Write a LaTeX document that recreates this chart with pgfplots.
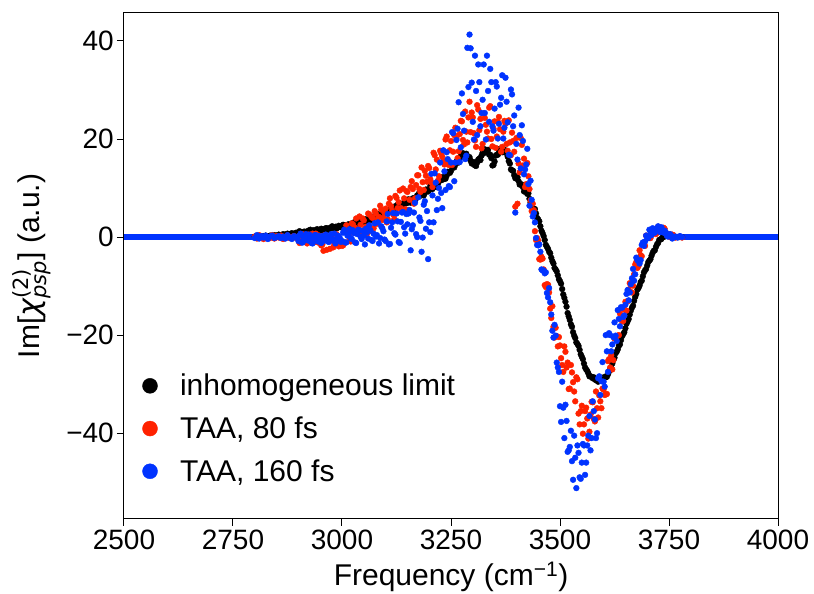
\documentclass[border=0pt]{standalone}
\usepackage{amsmath}
\usepackage{fontspec}
\setmainfont{Liberation Sans}
\newfontfamily\djv{DejaVu Sans}
\usepackage{pgfplots}
\usepackage{pgfplotstable}
\pgfplotsset{compat=1.18}

\definecolor{taared}{RGB}{255,34,0}
\definecolor{taablue}{RGB}{0,51,255}

% Im[chi(2)] spectra: inhomogeneous limit (k), TAA 80 fs (r), TAA 160 fs (b)
\pgfplotstableread{
x k r b
2800 0.1 0.1 -0.2
2805 0.1 -0.3 0.4
2810 0.2 0.4 -0.3
2815 0.1 -0.1 0.2
2820 0.2 -0.4 -0.1
2825 0.3 0.2 0.3
2830 0.2 0.0 -0.4
2835 0.3 -0.2 0.1
2840 0.3 0.4 0.3
2845 0.4 -0.3 -0.2
2850 0.3 0.2 0.0
2855 0.5 -0.1 0.2
2860 0.4 0.3 -0.2
2865 0.6 -0.4 0.1
2870 0.5 0.1 -0.3
2875 0.7 0.3 0.4
2880 0.6 -0.2 -0.1
2885 0.8 0.0 -0.4
2890 0.7 0.2 0.2
2895 0.9 -0.2 0.0
2900 0.8 0.0 -0.8
2905 1.0 -1.0 0.7
2910 0.9 0.6 -1.1
2915 1.1 -0.5 0.1
2920 1.0 -1.3 -0.6
2925 1.3 0.3 0.5
2930 1.1 -0.2 -1.2
2935 1.4 -0.8 -0.1
2940 1.2 0.7 0.4
2945 1.5 -1.1 -0.9
2950 1.3 -0.3 -0.4
2955 1.6 -1.5 0.2
2960 1.5 0.4 -0.7
2965 1.8 -2.6 0.0
2970 1.6 -0.6 -1.0
2975 1.9 0.3 0.6
2980 1.8 -2.1 -0.5
2985 2.1 -1.2 -1.3
2990 1.9 -0.1 0.3
2995 2.2 -1.7 -0.2
3000 2.0 -1.8 -0.8
3005 2.4 -1.1 1.5
3010 2.2 2.4 -1.1
3015 2.6 0.4 0.7
3020 2.4 -0.9 -0.2
3025 2.8 2.6 1.4
3030 2.6 1.9 -1.1
3035 3.0 0.9 0.6
3040 2.9 4.2 1.4
3045 3.3 0.9 -0.4
3050 3.1 3.4 0.3
3055 3.6 2.1 1.7
3060 3.4 4.8 -0.3
3065 3.9 1.3 1.4
3070 3.7 3.9 -0.8
3075 4.3 5.3 2.8
3080 4.1 2.7 0.4
3085 4.7 4.1 -1.3
3090 4.5 5.6 2.2
3095 5.1 3.9 1.2
3100 4.9 5.8 -0.8
3105 5.5 3.6 4.7
3110 5.4 7.9 -1.4
3115 6.0 5.4 3.0
3120 5.9 3.7 0.8
3125 6.3 8.0 4.8
3130 6.2 7.1 -1.0
3135 6.6 5.9 3.1
3140 6.7 9.9 5.1
3145 7.0 5.7 0.7
3150 7.0 9.2 2.6
3155 7.3 7.6 5.5
3160 7.5 11.4 1.6
3165 7.9 6.8 5.0
3170 8.0 10.6 0.6
3175 8.4 12.6 8.1
3180 8.5 9.2 3.3
3185 8.9 11.2 -0.1
3190 9.0 13.5 7.3
3195 9.5 11.3 5.3
3200 9.6 14.1 3.0
3205 10.1 11.1 12.9
3210 10.2 17.2 3.0
3215 10.7 13.8 11.1
3220 10.9 11.5 7.8
3225 11.5 17.6 15.2
3230 11.7 16.4 5.9
3235 12.3 14.8 13.4
3240 12.5 20.5 17.3
3245 13.2 14.7 10.4
3250 13.5 19.6 15.2
3255 14.4 17.4 21.2
3260 14.8 22.3 15.2
3265 15.6 16.1 22.1
3270 16.0 21.0 15.3
3275 16.6 23.6 29.3
3280 16.4 18.9 21.7
3285 17.0 21.5 16.6
3290 16.2 24.4 30.6
3295 15.6 21.4 38.5
3300 15.0 24.4 23.5
3305 14.6 19.7 37.0
3310 15.2 26.9 20.8
3315 16.0 21.8 31.6
3320 16.6 18.1 25.3
3325 17.1 25.2 35.2
3330 17.4 22.9 19.9
3335 17.8 20.1 29.8
3340 16.8 26.7 34.3
3345 14.6 18.5 22.6
3350 15.4 23.6 26.2
3355 16.8 20.5 30.7
3360 17.6 24.5 23.1
3365 18.0 17.4 28.4
3370 17.8 21.5 20.1
3375 17.2 23.1 32.5
3380 16.4 17.6 23.4
3385 15.0 19.3 16.7
3390 13.6 21.3 29.1
3395 12.6 17.4 24.8
3400 12.0 20.2 19.0
3405 11.4 15.0 26.4
3410 10.8 20.2 14.0
3415 10.2 14.6 19.6
3420 9.6 10.2 13.8
3425 8.8 15.1 18.0
3430 7.8 9.8 6.4
3435 6.8 5.3 7.6
3440 5.8 5.5 4.9
3445 4.8 -0.6 -0.2
3450 3.6 -0.7 -1.7
3455 2.2 -4.6 -3.0
3460 0.8 -4.4 -6.8
3465 -0.6 -9.8 -7.4
3470 -2.0 -9.6 -11.4
3475 -3.0 -11.3 -10.4
3480 -4.2 -16.5 -15.8
3485 -5.4 -18.3 -20.5
3490 -6.6 -18.5 -20.1
3495 -7.8 -22.3 -26.6
3500 -9.0 -22.1 -34.5
3505 -10.6 -26.1 -29.5
3510 -12.4 -22.3 -41.0
3515 -14.2 -26.6 -37.5
3520 -16.2 -31.0 -43.5
3525 -17.8 -26.1 -39.5
3530 -19.4 -29.6 -49.5
3535 -20.6 -33.5 -45.0
3540 -21.8 -29.0 -42.5
3545 -23.0 -38.2 -49.0
3550 -24.4 -34.4 -46.0
3555 -25.8 -38.2 -42.5
3560 -27.0 -34.8 -46.0
3565 -27.8 -41.1 -40.5
3570 -28.4 -36.2 -43.5
3575 -28.8 -33.7 -33.5
3580 -29.0 -37.6 -37.2
3585 -29.2 -34.9 -40.0
3590 -29.2 -32.3 -28.4
3595 -29.0 -34.9 -29.4
3600 -28.8 -31.1 -29.5
3605 -28.6 -32.1 -20.0
3610 -28.0 -25.3 -27.5
3615 -27.0 -26.6 -20.0
3620 -25.8 -27.0 -21.9
3625 -24.6 -20.7 -17.4
3630 -23.4 -20.3 -21.2
3635 -22.2 -20.0 -16.7
3640 -21.0 -14.5 -14.3
3645 -19.8 -17.1 -16.3
3650 -18.6 -13.2 -13.8
3655 -17.2 -13.1 -10.8
3660 -15.8 -9.4 -11.3
3665 -14.4 -11.3 -8.4
3670 -13.0 -7.6 -8.9
3675 -11.6 -5.1 -4.2
3680 -10.4 -5.9 -4.8
3685 -9.2 -3.7 -4.7
3690 -8.0 -1.6 -1.1
3695 -6.8 -1.8 -0.9
3700 -5.8 0.2 -0.1
3705 -4.8 -0.2 1.5
3710 -3.8 1.5 0.4
3715 -2.8 0.9 1.6
3720 -2.0 0.6 1.3
3725 -1.2 2.1 2.2
3730 -0.5 1.9 1.0
3735 0.0 1.4 1.3
3740 0.3 1.7 1.3
3745 0.4 0.4 0.3
3750 0.3 0.6 0.4
3755 0.2 0.2 0.3
3760 0.1 0.4 0.0
3765 0.0 -0.1 0.1
3770 0.0 0.0 -0.1
3775 0.0 0.1 0.2
3780 0.0 -0.1 0.0
}\maintab

% intermediate samples, offset by half a grid step
\pgfplotstableread{
x k r b
2902.5 1.2 -1.2 0.3
2907.5 0.8 0.2 -1.1
2912.5 1.1 -0.1 -0.2
2917.5 0.8 -0.9 0.6
2922.5 1.3 0.5 -0.7
2927.5 1.5 -0.6 0.0
2932.5 1.2 0.7 -1.3
2937.5 1.0 -1.0 0.4
2942.5 1.6 -0.2 -0.5
2947.5 1.3 0.3 0.2
2952.5 1.7 -1.7 -1.2
2957.5 1.4 -2.8 -0.1
2962.5 1.8 0.3 0.5
2967.5 1.4 -0.5 -0.9
2972.5 1.9 -2.4 -0.3
2977.5 2.2 -0.3 -0.6
2982.5 1.9 -1.4 0.7
2987.5 1.8 0.6 -0.8
2992.5 2.3 -1.9 0.1
2997.5 2.0 -1.0 -1.0
3002.5 2.5 -1.7 0.9
3007.5 2.1 1.4 -1.1
3012.5 2.5 1.1 0.3
3017.5 2.2 -0.2 1.6
3022.5 2.8 2.8 -0.4
3027.5 3.0 0.9 0.8
3032.5 2.7 3.8 -1.2
3037.5 2.7 0.7 1.5
3042.5 3.3 2.5 0.1
3047.5 3.1 3.8 1.3
3052.5 3.6 1.7 -1.5
3057.5 3.3 0.7 1.0
3062.5 3.8 4.6 2.4
3067.5 3.5 4.1 -0.6
3072.5 4.2 1.8 0.7
3077.5 4.5 4.8 0.1
3082.5 4.3 3.7 3.0
3087.5 4.4 6.4 -0.2
3092.5 5.0 3.5 1.8
3097.5 4.9 4.9 -0.5
3102.5 5.5 3.0 3.2
3107.5 5.3 6.8 -1.5
3112.5 5.8 6.3 1.9
3117.5 5.7 4.6 4.9
3122.5 6.3 8.4 0.5
3127.5 6.6 5.9 3.2
3132.5 6.3 9.5 -1.2
3137.5 6.4 5.5 5.0
3142.5 7.1 7.9 2.0
3147.5 6.9 9.4 4.7
3152.5 7.7 5.5 4.8
3157.5 7.0 10.2 -2.7
3162.5 7.9 9.8 2.4
3167.5 7.4 7.9 7.0
3172.5 8.5 12.6 0.0
3177.5 9.1 9.8 4.0
3182.5 8.5 14.2 -3.0
3187.5 8.5 9.6 6.6
3192.5 9.7 12.5 1.7
3197.5 9.3 14.5 -4.5
3202.5 10.4 11.8 1.0
3207.5 9.8 10.2 8.5
3212.5 10.7 16.7 13.0
3217.5 10.2 15.8 5.5
3222.5 11.5 12.4 10.0
3227.5 12.2 17.1 9.0
3232.5 11.8 15.5 17.7
3237.5 11.9 19.9 9.6
3242.5 13.3 15.4 15.9
3247.5 13.1 17.7 10.2
3252.5 14.5 14.7 21.4
3257.5 14.2 20.8 11.4
3262.5 15.4 20.2 19.8
3267.5 15.2 17.5 27.5
3272.5 16.6 23.7 18.3
3277.5 17.1 19.8 25.1
3282.5 16.5 25.6 15.9
3287.5 16.1 19.3 38.6
3292.5 16.3 27.6 41.3
3297.5 15.0 25.4 31.5
3302.5 15.3 21.2 19.9
3307.5 14.5 18.4 29.8
3312.5 15.8 26.0 35.2
3317.5 15.7 24.1 22.6
3322.5 17.2 19.0 28.0
3327.5 17.9 24.3 25.3
3332.5 17.4 21.5 37.0
3337.5 16.8 26.4 23.5
3342.5 16.1 20.0 31.6
3347.5 14.7 22.1 21.7
3352.5 16.6 18.2 31.6
3357.5 16.8 23.5 20.1
3362.5 18.0 22.0 27.0
3367.5 17.3 18.4 33.0
3372.5 17.8 23.7 22.3
3377.5 17.4 19.0 27.6
3382.5 15.5 23.8 16.8
3387.5 13.8 16.7 30.1
3392.5 13.5 19.6 22.6
3397.5 12.0 6.2 5.0
3402.5 12.2 6.8 15.8
3407.5 10.7 13.2 20.8
3412.5 10.7 18.8 22.8
3417.5 9.3 16.0 12.8
3422.5 9.5 10.8 14.8
3427.5 8.9 12.4 10.8
3432.5 7.1 7.5 11.5
3437.5 5.8 6.8 4.2
3442.5 5.7 1.2 3.0
3447.5 3.9 -0.2 -1.6
3452.5 3.2 -4.5 -1.5
3457.5 1.3 -4.0 -6.6
3462.5 0.2 -6.6 -6.8
3467.5 -1.6 -10.2 -7.2
3472.5 -2.4 -9.7 -12.3
3477.5 -3.3 -14.6 -13.3
3482.5 -4.9 -14.1 -19.1
3487.5 -6.3 -20.5 -17.9
3492.5 -7.0 -20.2 -25.6
3497.5 -8.6 -20.4 -27.5
3502.5 -9.5 -24.7 -37.7
3507.5 -11.7 -27.5 -34.8
3512.5 -13.2 -23.4 -34.2
3517.5 -15.5 -25.6 -43.8
3522.5 -16.9 -30.9 -42.8
3527.5 -18.3 -27.6 -45.7
3532.5 -20.1 -31.5 -40.5
3537.5 -21.5 -28.6 -51.2
3542.5 -22.2 -36.0 -44.0
3547.5 -23.9 -35.5 -49.3
3552.5 -24.9 -40.1 -42.2
3557.5 -26.6 -35.5 -48.5
3562.5 -27.3 -37.0 -42.5
3567.5 -28.4 -39.7 -36.5
3572.5 -28.5 -33.6 -41.0
3577.5 -28.6 -37.1 -35.5
3582.5 -29.2 -31.5 -41.0
3587.5 -29.5 -36.8 -28.8
3592.5 -28.9 -33.5 -32.2
3597.5 -29.1 -30.9 -25.5
3602.5 -28.5 -32.2 -30.5
3607.5 -28.5 -32.0 -23.3
3612.5 -27.4 -24.9 -19.6
3617.5 -26.7 -24.1 -23.3
3622.5 -25.1 -25.1 -20.4
3627.5 -23.7 -20.4 -20.1
3632.5 -22.9 -20.1 -14.9
3637.5 -21.9 -15.6 -18.2
3642.5 -20.2 -17.2 -14.4
3647.5 -19.4 -14.8 -16.0
3652.5 -17.7 -15.0 -11.6
3657.5 -16.7 -10.7 -12.9
3662.5 -15.0 -9.8 -9.6
3667.5 -14.0 -9.9 -6.5
3672.5 -12.2 -5.6 -7.6
3677.5 -10.7 -6.3 -4.7
3682.5 -9.9 -2.7 -5.4
3687.5 -8.9 -3.9 -1.6
3692.5 -7.2 -1.6 -1.8
3697.5 -6.5 0.3 0.3
3702.5 -5.1 -0.1 -0.2
3707.5 -4.5 -0.2 1.1
3712.5 -3.2 1.6 1.8
3717.5 -2.7 1.5 0.9
3722.5 -1.5 0.9 1.6
3727.5 -0.6 2.0 1.4
3732.5 -0.4 1.6 2.0
3737.5 0.0 1.9 0.9
3742.5 0.6 0.8 1.0
3747.5 0.3 0.6 0.1
3752.5 0.4 0.0 0.6
3757.5 0.1 0.5 -0.3
}\extratab

\begin{document}
\begin{tikzpicture}[font=\fontsize{28}{34}\selectfont]
\useasboundingbox (-124pt,-75pt) rectangle (690pt,519pt);
\begin{axis}[
  scale only axis, width=654pt, height=506pt,
  xmin=2500, xmax=4000, ymin=-57.5, ymax=45.7,
  xtick={2500,2750,3000,3250,3500,3750,4000},
  xticklabels={2500,2750,3000,3250,3500,3750,4000},
  ytick={-40,-20,0,20,40},
  yticklabels={−40,−20,0,20,40},
  tick align=outside, major tick length=7pt,
  xtick pos=lower, ytick pos=left,
  tick style={black, line width=1pt},
  axis line style={line width=1pt},
  xticklabel style={inner sep=4pt},
  yticklabel style={inner sep=3pt},
  label style={font=\fontsize{30}{36}\selectfont},
  xlabel={Frequency (cm\textsuperscript{−1})},
  ylabel={Im[\mbox{\djv\itshape χ}$^{\text{\djv (2)}}_{\text{\djv\itshape psp}}$] (a.u.)},
  xlabel style={inner sep=0pt, yshift=-8pt},
  ylabel style={inner sep=0pt},
  ylabel shift=12pt,
  legend style={at={(rel axis cs:0.028,0.071)}, anchor=south west,
    draw=none, fill=none, inner sep=0pt, row sep=19.5pt,
    nodes={inner sep=0pt}, column sep=22.5pt,
    font=\fontsize{30}{36}\selectfont},
  legend cell align=left,
  legend image post style={mark size=7.5pt},
  scat/.style={only marks, mark=*, mark size=2.9pt,
    mark options={draw=none, fill=#1}, color=#1},
  base/.style={no marks, line width=5.8pt, color=#1, forget plot},
]
% flat baseline segments outside the resonance window
\addplot[base=black] coordinates {(2500,0) (2800,0)};
\addplot[scat=black] table[x=x, y=k] {\maintab};
\addlegendentry{inhomogeneous limit}
\addplot[scat=black, forget plot] table[x=x, y=k] {\extratab};

\addplot[base=taared] coordinates {(2500,0) (2800,0)};
\addplot[scat=taared] table[x=x, y=r] {\maintab};
\addlegendentry{TAA, 80 fs}
\addplot[scat=taared, forget plot] table[x=x, y=r] {\extratab};

\addplot[base=taablue] coordinates {(2500,0) (2800,0)};
\addplot[scat=taablue] table[x=x, y=b] {\maintab};
\addlegendentry{TAA, 160 fs}
\addplot[scat=taablue, forget plot] table[x=x, y=b] {\extratab};
\addplot[base=taablue] coordinates {(3780,0) (4000,0)};
\end{axis}
\end{tikzpicture}
\end{document}
